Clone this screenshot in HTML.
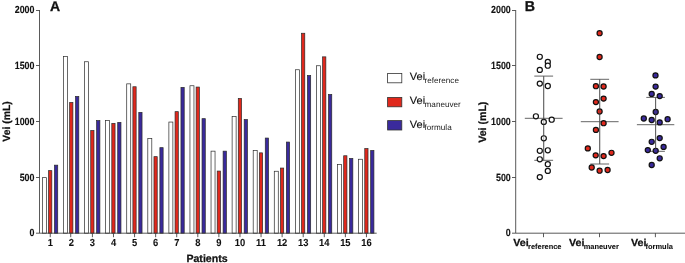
<!DOCTYPE html><html><head><meta charset="utf-8"><style>html,body{margin:0;padding:0;background:#fff;overflow:hidden}svg{display:block;will-change:transform}text{text-rendering:geometricPrecision;stroke:#111;stroke-width:0.25;font-family:"Liberation Sans",sans-serif;fill:#111}</style></head><body>
<svg width="685" height="263" viewBox="0 0 685 263">
<rect width="685" height="263" fill="#fff"/>
<rect x="42.40" y="177.65" width="4.0" height="55.55" fill="#fff" stroke="#2a2a2a" stroke-width="0.7"/>
<rect x="48.58" y="170.65" width="3.25" height="62.55" fill="#e0281c" stroke="#2a2a2a" stroke-width="0.7"/>
<rect x="54.48" y="165.15" width="3.25" height="68.05" fill="#3a2a9c" stroke="#2a2a2a" stroke-width="0.7"/>
<rect x="63.48" y="56.55" width="4.0" height="176.65" fill="#fff" stroke="#2a2a2a" stroke-width="0.7"/>
<rect x="69.66" y="102.45" width="3.25" height="130.75" fill="#e0281c" stroke="#2a2a2a" stroke-width="0.7"/>
<rect x="75.56" y="96.45" width="3.25" height="136.75" fill="#3a2a9c" stroke="#2a2a2a" stroke-width="0.7"/>
<rect x="84.56" y="61.75" width="4.0" height="171.45" fill="#fff" stroke="#2a2a2a" stroke-width="0.7"/>
<rect x="90.73" y="130.55" width="3.25" height="102.65" fill="#e0281c" stroke="#2a2a2a" stroke-width="0.7"/>
<rect x="96.64" y="120.55" width="3.25" height="112.65" fill="#3a2a9c" stroke="#2a2a2a" stroke-width="0.7"/>
<rect x="105.64" y="120.35" width="4.0" height="112.85" fill="#fff" stroke="#2a2a2a" stroke-width="0.7"/>
<rect x="111.81" y="123.35" width="3.25" height="109.85" fill="#e0281c" stroke="#2a2a2a" stroke-width="0.7"/>
<rect x="117.72" y="122.35" width="3.25" height="110.85" fill="#3a2a9c" stroke="#2a2a2a" stroke-width="0.7"/>
<rect x="126.72" y="83.85" width="4.0" height="149.35" fill="#fff" stroke="#2a2a2a" stroke-width="0.7"/>
<rect x="132.89" y="86.75" width="3.25" height="146.45" fill="#e0281c" stroke="#2a2a2a" stroke-width="0.7"/>
<rect x="138.79" y="112.35" width="3.25" height="120.85" fill="#3a2a9c" stroke="#2a2a2a" stroke-width="0.7"/>
<rect x="147.80" y="138.45" width="4.0" height="94.75" fill="#fff" stroke="#2a2a2a" stroke-width="0.7"/>
<rect x="153.97" y="156.65" width="3.25" height="76.55" fill="#e0281c" stroke="#2a2a2a" stroke-width="0.7"/>
<rect x="159.88" y="147.65" width="3.25" height="85.55" fill="#3a2a9c" stroke="#2a2a2a" stroke-width="0.7"/>
<rect x="168.88" y="122.05" width="4.0" height="111.15" fill="#fff" stroke="#2a2a2a" stroke-width="0.7"/>
<rect x="175.06" y="111.65" width="3.25" height="121.55" fill="#e0281c" stroke="#2a2a2a" stroke-width="0.7"/>
<rect x="180.96" y="87.35" width="3.25" height="145.85" fill="#3a2a9c" stroke="#2a2a2a" stroke-width="0.7"/>
<rect x="189.96" y="85.75" width="4.0" height="147.45" fill="#fff" stroke="#2a2a2a" stroke-width="0.7"/>
<rect x="196.13" y="87.05" width="3.25" height="146.15" fill="#e0281c" stroke="#2a2a2a" stroke-width="0.7"/>
<rect x="202.03" y="118.65" width="3.25" height="114.55" fill="#3a2a9c" stroke="#2a2a2a" stroke-width="0.7"/>
<rect x="211.04" y="151.15" width="4.0" height="82.05" fill="#fff" stroke="#2a2a2a" stroke-width="0.7"/>
<rect x="217.21" y="171.05" width="3.25" height="62.15" fill="#e0281c" stroke="#2a2a2a" stroke-width="0.7"/>
<rect x="223.11" y="151.15" width="3.25" height="82.05" fill="#3a2a9c" stroke="#2a2a2a" stroke-width="0.7"/>
<rect x="232.12" y="116.55" width="4.0" height="116.65" fill="#fff" stroke="#2a2a2a" stroke-width="0.7"/>
<rect x="238.29" y="98.45" width="3.25" height="134.75" fill="#e0281c" stroke="#2a2a2a" stroke-width="0.7"/>
<rect x="244.19" y="119.55" width="3.25" height="113.65" fill="#3a2a9c" stroke="#2a2a2a" stroke-width="0.7"/>
<rect x="253.20" y="150.45" width="4.0" height="82.75" fill="#fff" stroke="#2a2a2a" stroke-width="0.7"/>
<rect x="259.38" y="152.85" width="3.25" height="80.35" fill="#e0281c" stroke="#2a2a2a" stroke-width="0.7"/>
<rect x="265.27" y="138.05" width="3.25" height="95.15" fill="#3a2a9c" stroke="#2a2a2a" stroke-width="0.7"/>
<rect x="274.28" y="171.25" width="4.0" height="61.95" fill="#fff" stroke="#2a2a2a" stroke-width="0.7"/>
<rect x="280.45" y="168.05" width="3.25" height="65.15" fill="#e0281c" stroke="#2a2a2a" stroke-width="0.7"/>
<rect x="286.35" y="142.05" width="3.25" height="91.15" fill="#3a2a9c" stroke="#2a2a2a" stroke-width="0.7"/>
<rect x="295.36" y="69.75" width="4.0" height="163.45" fill="#fff" stroke="#2a2a2a" stroke-width="0.7"/>
<rect x="301.53" y="33.25" width="3.25" height="199.95" fill="#e0281c" stroke="#2a2a2a" stroke-width="0.7"/>
<rect x="307.43" y="75.45" width="3.25" height="157.75" fill="#3a2a9c" stroke="#2a2a2a" stroke-width="0.7"/>
<rect x="316.44" y="65.75" width="4.0" height="167.45" fill="#fff" stroke="#2a2a2a" stroke-width="0.7"/>
<rect x="322.61" y="56.85" width="3.25" height="176.35" fill="#e0281c" stroke="#2a2a2a" stroke-width="0.7"/>
<rect x="328.51" y="94.45" width="3.25" height="138.75" fill="#3a2a9c" stroke="#2a2a2a" stroke-width="0.7"/>
<rect x="337.52" y="164.55" width="4.0" height="68.65" fill="#fff" stroke="#2a2a2a" stroke-width="0.7"/>
<rect x="343.69" y="155.75" width="3.25" height="77.45" fill="#e0281c" stroke="#2a2a2a" stroke-width="0.7"/>
<rect x="349.59" y="158.45" width="3.25" height="74.75" fill="#3a2a9c" stroke="#2a2a2a" stroke-width="0.7"/>
<rect x="358.60" y="159.25" width="4.0" height="73.95" fill="#fff" stroke="#2a2a2a" stroke-width="0.7"/>
<rect x="364.77" y="148.55" width="3.25" height="84.65" fill="#e0281c" stroke="#2a2a2a" stroke-width="0.7"/>
<rect x="370.67" y="150.45" width="3.25" height="82.75" fill="#3a2a9c" stroke="#2a2a2a" stroke-width="0.7"/>
<g stroke="#3c3c3c" stroke-width="0.85" fill="none">
<path d="M39.5 10 V233.2 H376.7"/>
<path d="M36 10.50 H39.5"/>
<path d="M36 65.50 H39.5"/>
<path d="M36 121.50 H39.5"/>
<path d="M36 177.50 H39.5"/>
<path d="M36 233.20 H39.5"/>
<path d="M50.25 233.2 V237.2"/>
<path d="M70.73 233.2 V237.2"/>
<path d="M92.41 233.2 V237.2"/>
<path d="M113.49 233.2 V237.2"/>
<path d="M134.57 233.2 V237.2"/>
<path d="M155.65 233.2 V237.2"/>
<path d="M176.73 233.2 V237.2"/>
<path d="M197.81 233.2 V237.2"/>
<path d="M218.89 233.2 V237.2"/>
<path d="M239.97 233.2 V237.2"/>
<path d="M261.05 233.2 V237.2"/>
<path d="M282.13 233.2 V237.2"/>
<path d="M303.21 233.2 V237.2"/>
<path d="M324.29 233.2 V237.2"/>
<path d="M345.37 233.2 V237.2"/>
<path d="M366.45 233.2 V237.2"/>
<path d="M515.7 10 V233.2 H685"/>
<path d="M512 10.50 H515.7"/>
<path d="M512 65.50 H515.7"/>
<path d="M512 121.50 H515.7"/>
<path d="M512 177.50 H515.7"/>
<path d="M512 233.20 H515.7"/>
<path d="M543.5 233.2 V237.2"/>
<path d="M599.5 233.2 V237.2"/>
<path d="M655.4 233.2 V237.2"/>
</g>
<text transform="translate(34.5 13.10) scale(0.855 1)" font-size="10.4" font-weight="bold" text-anchor="end" style="stroke-width:0.1">2000</text>
<text transform="translate(510.8 13.10) scale(0.855 1)" font-size="10.4" font-weight="bold" text-anchor="end" style="stroke-width:0.1">2000</text>
<text transform="translate(34.5 68.80) scale(0.855 1)" font-size="10.4" font-weight="bold" text-anchor="end" style="stroke-width:0.1">1500</text>
<text transform="translate(510.8 68.80) scale(0.855 1)" font-size="10.4" font-weight="bold" text-anchor="end" style="stroke-width:0.1">1500</text>
<text transform="translate(34.5 124.60) scale(0.855 1)" font-size="10.4" font-weight="bold" text-anchor="end" style="stroke-width:0.1">1000</text>
<text transform="translate(510.8 124.60) scale(0.855 1)" font-size="10.4" font-weight="bold" text-anchor="end" style="stroke-width:0.1">1000</text>
<text transform="translate(34.5 180.50) scale(0.855 1)" font-size="10.4" font-weight="bold" text-anchor="end" style="stroke-width:0.1">500</text>
<text transform="translate(510.8 180.50) scale(0.855 1)" font-size="10.4" font-weight="bold" text-anchor="end" style="stroke-width:0.1">500</text>
<text transform="translate(34.5 235.80) scale(0.855 1)" font-size="10.4" font-weight="bold" text-anchor="end" style="stroke-width:0.1">0</text>
<text transform="translate(510.8 235.80) scale(0.855 1)" font-size="10.4" font-weight="bold" text-anchor="end" style="stroke-width:0.1">0</text>
<text transform="translate(50.25 246.3) scale(0.92 1)" font-size="10.2" font-weight="bold" text-anchor="middle" style="stroke-width:0.08">1</text>
<text transform="translate(71.33 246.3) scale(0.92 1)" font-size="10.2" font-weight="bold" text-anchor="middle" style="stroke-width:0.08">2</text>
<text transform="translate(92.41 246.3) scale(0.92 1)" font-size="10.2" font-weight="bold" text-anchor="middle" style="stroke-width:0.08">3</text>
<text transform="translate(113.49 246.3) scale(0.92 1)" font-size="10.2" font-weight="bold" text-anchor="middle" style="stroke-width:0.08">4</text>
<text transform="translate(134.57 246.3) scale(0.92 1)" font-size="10.2" font-weight="bold" text-anchor="middle" style="stroke-width:0.08">5</text>
<text transform="translate(155.65 246.3) scale(0.92 1)" font-size="10.2" font-weight="bold" text-anchor="middle" style="stroke-width:0.08">6</text>
<text transform="translate(176.73 246.3) scale(0.92 1)" font-size="10.2" font-weight="bold" text-anchor="middle" style="stroke-width:0.08">7</text>
<text transform="translate(197.81 246.3) scale(0.92 1)" font-size="10.2" font-weight="bold" text-anchor="middle" style="stroke-width:0.08">8</text>
<text transform="translate(218.89 246.3) scale(0.92 1)" font-size="10.2" font-weight="bold" text-anchor="middle" style="stroke-width:0.08">9</text>
<text transform="translate(239.97 246.3) scale(0.92 1)" font-size="10.2" font-weight="bold" text-anchor="middle" style="stroke-width:0.08">10</text>
<text transform="translate(261.05 246.3) scale(0.92 1)" font-size="10.2" font-weight="bold" text-anchor="middle" style="stroke-width:0.08">11</text>
<text transform="translate(282.13 246.3) scale(0.92 1)" font-size="10.2" font-weight="bold" text-anchor="middle" style="stroke-width:0.08">12</text>
<text transform="translate(303.21 246.3) scale(0.92 1)" font-size="10.2" font-weight="bold" text-anchor="middle" style="stroke-width:0.08">13</text>
<text transform="translate(324.29 246.3) scale(0.92 1)" font-size="10.2" font-weight="bold" text-anchor="middle" style="stroke-width:0.08">14</text>
<text transform="translate(345.37 246.3) scale(0.92 1)" font-size="10.2" font-weight="bold" text-anchor="middle" style="stroke-width:0.08">15</text>
<text transform="translate(366.45 246.3) scale(0.92 1)" font-size="10.2" font-weight="bold" text-anchor="middle" style="stroke-width:0.08">16</text>
<text x="207" y="262.2" font-size="10.6" font-weight="bold" text-anchor="middle">Patients</text>
<text transform="translate(10.3 121.5) rotate(-90)" font-size="10.4" font-weight="bold" text-anchor="middle">Vei (mL)</text>
<text transform="translate(485.5 122.2) rotate(-90)" font-size="10.6" font-weight="bold" text-anchor="middle">Vei (mL)</text>
<text x="50" y="11.4" font-size="14" font-weight="bold" style="stroke-width:0.3">A</text>
<text x="524.7" y="11" font-size="14.2" font-weight="bold" style="stroke-width:0.3">B</text>
<rect x="387.6" y="73.4" width="14.2" height="9.4" fill="#fff" stroke="#333" stroke-width="0.8"/>
<text transform="translate(409.8 80.4) scale(1.03 1)" font-size="10.7" style="stroke-width:0.12">Vei</text>
<text x="424.6" y="83" font-size="8.15" style="stroke:none;fill:#222">reference</text>
<rect x="387.6" y="97.4" width="14.2" height="9.4" fill="#e0281c" stroke="#333" stroke-width="0.8"/>
<text transform="translate(409.8 104.4) scale(1.03 1)" font-size="10.7" style="stroke-width:0.12">Vei</text>
<text x="424.6" y="107" font-size="8.15" style="stroke:none;fill:#222">maneuver</text>
<rect x="387.6" y="120.60000000000001" width="14.2" height="9.4" fill="#3a2a9c" stroke="#333" stroke-width="0.8"/>
<text transform="translate(409.8 127.60000000000001) scale(1.03 1)" font-size="10.7" style="stroke-width:0.12">Vei</text>
<text x="424.6" y="130.2" font-size="8.15" style="stroke:none;fill:#222">formula</text>
<text transform="translate(513.2 246.3) scale(1.05 1)" font-size="10.2" font-weight="bold">Vei</text>
<text x="528.0" y="249.0" font-size="7.45" font-weight="bold" style="stroke-width:0.08">reference</text>
<text transform="translate(569.0 246.3) scale(1.05 1)" font-size="10.2" font-weight="bold">Vei</text>
<text x="583.7" y="249.0" font-size="7.45" font-weight="bold" style="stroke-width:0.08">maneuver</text>
<text transform="translate(631.0 246.3) scale(1.05 1)" font-size="10.2" font-weight="bold">Vei</text>
<text x="645.6" y="249.0" font-size="7.45" font-weight="bold" style="stroke-width:0.08">formula</text>
<g stroke="#555" stroke-width="0.9" fill="none"><path d="M543.7 76.1 V160.3"/><path d="M534.3000000000001 76.1 H553.1"/><path d="M534.3000000000001 160.3 H553.1"/><path d="M524.8000000000001 118.3 H562.6"/></g>
<g stroke="#555" stroke-width="0.9" fill="none"><path d="M599.7 79.3 V164.0"/><path d="M590.3000000000001 79.3 H609.1"/><path d="M590.3000000000001 164.0 H609.1"/><path d="M580.8000000000001 121.7 H618.6"/></g>
<g stroke="#555" stroke-width="0.9" fill="none"><path d="M655.6 97.4 V151.3"/><path d="M646.3000000000001 97.4 H664.9"/><path d="M646.3000000000001 151.3 H664.9"/><path d="M636.9 124.7 H674.3000000000001"/></g>
<g fill="#fff" stroke="#111" stroke-width="1.2">
<circle cx="539.8" cy="56.8" r="2.55"/>
<circle cx="547.8" cy="62" r="2.55"/>
<circle cx="547.8" cy="65.7" r="2.55"/>
<circle cx="539.8" cy="69.9" r="2.55"/>
<circle cx="539.8" cy="83.6" r="2.55"/>
<circle cx="547.8" cy="86" r="2.55"/>
<circle cx="535.9" cy="116.3" r="2.55"/>
<circle cx="543.8" cy="121.9" r="2.55"/>
<circle cx="551.7" cy="119.7" r="2.55"/>
<circle cx="543.8" cy="138.3" r="2.55"/>
<circle cx="539.8" cy="150.8" r="2.55"/>
<circle cx="547.8" cy="150.3" r="2.55"/>
<circle cx="539.8" cy="159.3" r="2.55"/>
<circle cx="547.8" cy="164.2" r="2.55"/>
<circle cx="547.8" cy="170.9" r="2.55"/>
<circle cx="539.8" cy="177.1" r="2.55"/>
</g>
<g fill="#e0281c" stroke="#111" stroke-width="1.2">
<circle cx="599.6" cy="33.2" r="2.55"/>
<circle cx="599.6" cy="57" r="2.55"/>
<circle cx="595.9" cy="86.2" r="2.55"/>
<circle cx="603.6" cy="86.5" r="2.55"/>
<circle cx="603.6" cy="98.6" r="2.55"/>
<circle cx="595.9" cy="102.1" r="2.55"/>
<circle cx="599.6" cy="111.5" r="2.55"/>
<circle cx="603.6" cy="123.2" r="2.55"/>
<circle cx="595.9" cy="129.9" r="2.55"/>
<circle cx="587.8" cy="148.4" r="2.55"/>
<circle cx="595.7" cy="155.35" r="2.55"/>
<circle cx="603.6" cy="156.1" r="2.55"/>
<circle cx="611.5" cy="152.8" r="2.55"/>
<circle cx="591.7" cy="167.5" r="2.55"/>
<circle cx="599.6" cy="170.7" r="2.55"/>
<circle cx="607.6" cy="170" r="2.55"/>
</g>
<g fill="#3a2a9c" stroke="#111" stroke-width="1.2">
<circle cx="655.5" cy="75.4" r="2.55"/>
<circle cx="655.6" cy="86.6" r="2.55"/>
<circle cx="651.7" cy="93.9" r="2.55"/>
<circle cx="659.7" cy="96.1" r="2.55"/>
<circle cx="655.7" cy="112" r="2.55"/>
<circle cx="643.8" cy="118.5" r="2.55"/>
<circle cx="651.7" cy="120" r="2.55"/>
<circle cx="659.7" cy="122.4" r="2.55"/>
<circle cx="667.6" cy="119.2" r="2.55"/>
<circle cx="659.7" cy="138.1" r="2.55"/>
<circle cx="651.7" cy="141.8" r="2.55"/>
<circle cx="663.6" cy="146.9" r="2.55"/>
<circle cx="647.8" cy="150.1" r="2.55"/>
<circle cx="655.7" cy="150.8" r="2.55"/>
<circle cx="659.7" cy="158.3" r="2.55"/>
<circle cx="651.7" cy="165" r="2.55"/>
</g>
<path d="M543.7 76.1 V160.3" stroke="#555" stroke-width="0.9" opacity="0.5" fill="none"/>
<path d="M599.7 79.3 V164.0" stroke="#555" stroke-width="0.9" opacity="0.5" fill="none"/>
<path d="M655.6 97.4 V151.3" stroke="#555" stroke-width="0.9" opacity="0.5" fill="none"/>
</svg></body></html>
